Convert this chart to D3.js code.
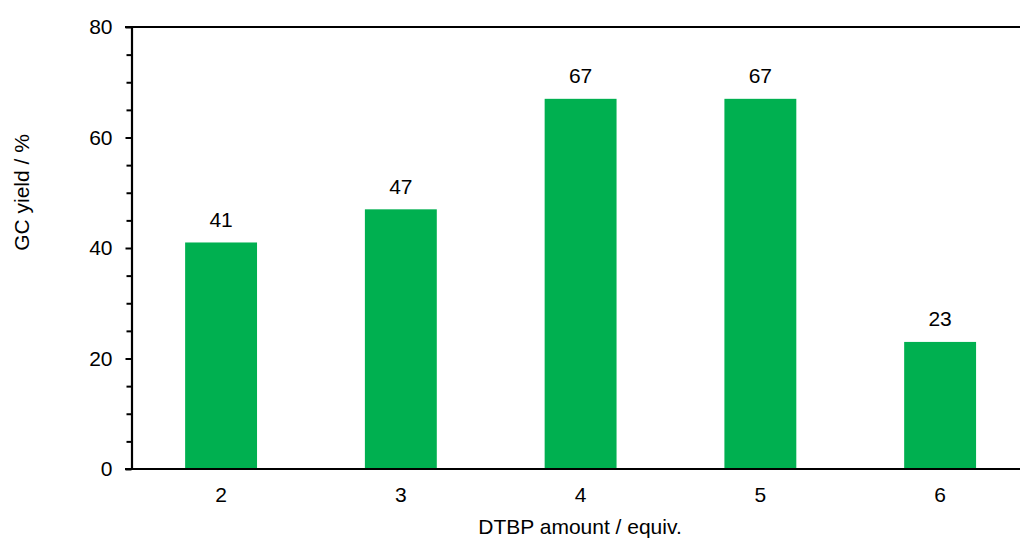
<!DOCTYPE html>
<html><head><meta charset="utf-8">
<script src="https://cdn.jsdelivr.net/npm/d3@7"></script>
<style>body{margin:0;background:#fff}svg{display:block}text{font-family:"Liberation Sans",Arial,sans-serif;fill:#000}</style>
</head><body>
<script>
const categories = ["2","3","4","5","6"];
const values = [41,47,67,67,23];
const yTicks = [0,20,40,60,80];
const yMinorTicks = d3.range(0,81,5);
const xTitle = "DTBP amount / equiv.";
const yTitle = "GC yield / %";

const W=1020,H=539,FS=21;
const svg=d3.select("body").append("svg").attr("width",W).attr("height",H);
const x=d3.scaleBand().domain(categories).range([131.2,1030]).paddingInner(0.6).paddingOuter(0.3);
const y=d3.scaleLinear().domain([0,80]).range([469,27]);

// bars
svg.selectAll("rect.bar").data(values).enter().append("rect")
  .attr("x",(d,i)=>x(categories[i])).attr("width",x.bandwidth())
  .attr("y",d=>y(d)).attr("height",d=>y(0)-y(d)).attr("fill","#00B050");

// value labels
svg.selectAll("text.val").data(values).enter().append("text")
  .attr("x",(d,i)=>x(categories[i])+x.bandwidth()/2).attr("y",d=>y(d)-15.5)
  .attr("text-anchor","middle").attr("font-size",FS).text(d=>d);

// minor ticks
const yMinor=d3.axisLeft(y).tickValues(yMinorTicks.filter(v=>!yTicks.includes(v))).tickSize(5).tickFormat("");
svg.append("g").attr("transform","translate(131.5,0)").call(yMinor)
  .call(g=>g.select(".domain").remove()).selectAll("line").attr("stroke","#000").attr("stroke-width",2);

// y axis
const yAxis=d3.axisLeft(y).tickValues(yTicks).tickSize(6).tickSizeOuter(0).tickPadding(13);
const gy=svg.append("g").attr("transform","translate(131.5,0)").call(yAxis);
gy.attr("font-size",FS).attr("font-family",null);
gy.select(".domain").attr("stroke","#000").attr("stroke-width",2.2);
gy.selectAll(".tick line").attr("stroke","#000").attr("stroke-width",2);
gy.selectAll("text").attr("fill","#000");

// top line
svg.append("line").attr("x1",125).attr("x2",W).attr("y1",y(80)).attr("y2",y(80)).attr("stroke","#000").attr("stroke-width",2.2);

// x axis
const xAxis=d3.axisBottom(x).tickSize(0).tickPadding(18);
const gx=svg.append("g").attr("transform",`translate(0,${y(0)})`).call(xAxis);
gx.attr("font-size",FS).attr("font-family",null);
gx.select(".domain").remove();
svg.append("line").attr("x1",125).attr("x2",W).attr("y1",y(0)).attr("y2",y(0)).attr("stroke","#000").attr("stroke-width",2.2);
gx.selectAll("text").attr("fill","#000");

// titles
svg.append("text").attr("x",580).attr("y",534).attr("text-anchor","middle").attr("font-size",FS).text(xTitle);
svg.append("text").attr("transform","translate(28.5,192.5) rotate(-90)").attr("text-anchor","middle").attr("font-size",FS).text(yTitle);
</script>
</body></html>
